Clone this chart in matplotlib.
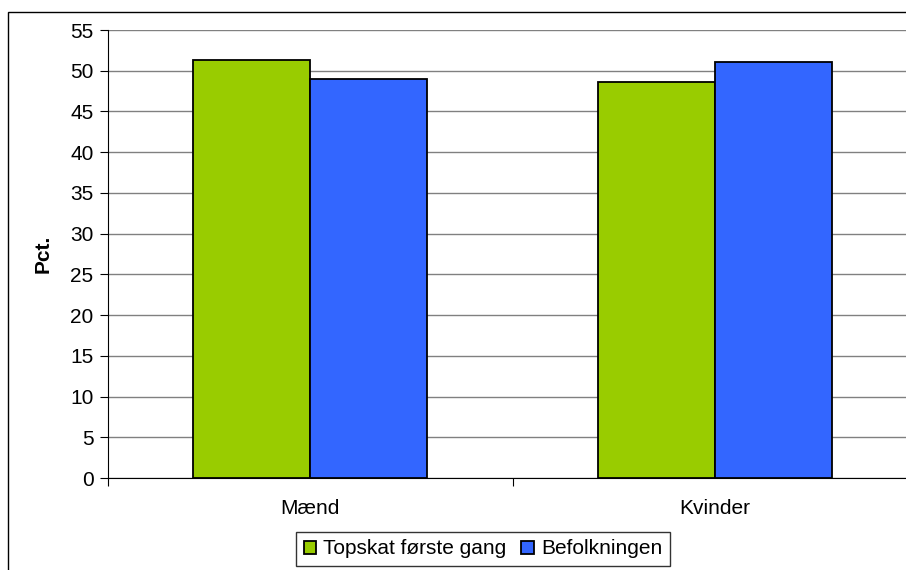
import matplotlib.pyplot as plt
from matplotlib.patches import Rectangle
import numpy as np

plt.rcParams['font.family'] = ['Liberation Sans', 'DejaVu Sans']

categories = ['Mænd', 'Kvinder']
series_names = ['Topskat første gang', 'Befolkningen']
topskat = [51.3, 48.6]
befolkning = [49.0, 51.1]
colors = ['#99CC00', '#3366FF']

fs = 15

fig = plt.figure(figsize=(9.06, 5.70), dpi=100)

# outer chart border (cropped on right/bottom like the original)
fig.patches.append(Rectangle((8 / 906, -0.1), 1.2, (570 - 12) / 570 + 0.1,
                             transform=fig.transFigure, fill=False,
                             edgecolor='black', linewidth=1.0))

ax = fig.add_axes([107.5 / 906, 92 / 570, 810 / 906, 448 / 570])

x = np.arange(len(categories))
w = 0.289
ax.bar(x - w / 2, topskat, w, color=colors[0], edgecolor='black', linewidth=1.3,
       label=series_names[0], zorder=3)
ax.bar(x + w / 2, befolkning, w, color=colors[1], edgecolor='black', linewidth=1.3,
       label=series_names[1], zorder=3)

ax.set_xlim(-0.5, 1.5)
ax.set_ylim(0, 55)
ax.set_yticks(range(0, 56, 5))
ax.yaxis.grid(True, color='#808080', linewidth=1.0, zorder=0)

ax.set_xticks([-0.5, 0.5, 1.5])
ax.set_xticklabels([])
ax.set_xticks(x, minor=True)
ax.set_xticklabels(categories, minor=True)
ax.tick_params(axis='x', which='minor', length=0, pad=15, labelsize=fs)
ax.tick_params(axis='x', which='major', length=6, direction='out')
ax.tick_params(axis='y', length=6, direction='out', labelsize=fs, pad=4)

for s in ['top', 'right']:
    ax.spines[s].set_visible(False)
ax.spines['left'].set_color('black')
ax.spines['bottom'].set_color('black')

ax.set_ylabel('Pct.', fontweight='bold', fontsize=fs, labelpad=13)

leg = fig.legend(loc='center', bbox_to_anchor=(483 / 906, (570 - 549) / 570),
                 ncol=2, fontsize=fs, frameon=True, fancybox=False,
                 edgecolor='black', handlelength=0.6, handleheight=0.6,
                 handletextpad=0.35, columnspacing=0.7, borderpad=0.35)
leg.get_frame().set_linewidth(1.0)

fig.savefig('out.png', dpi=100)
